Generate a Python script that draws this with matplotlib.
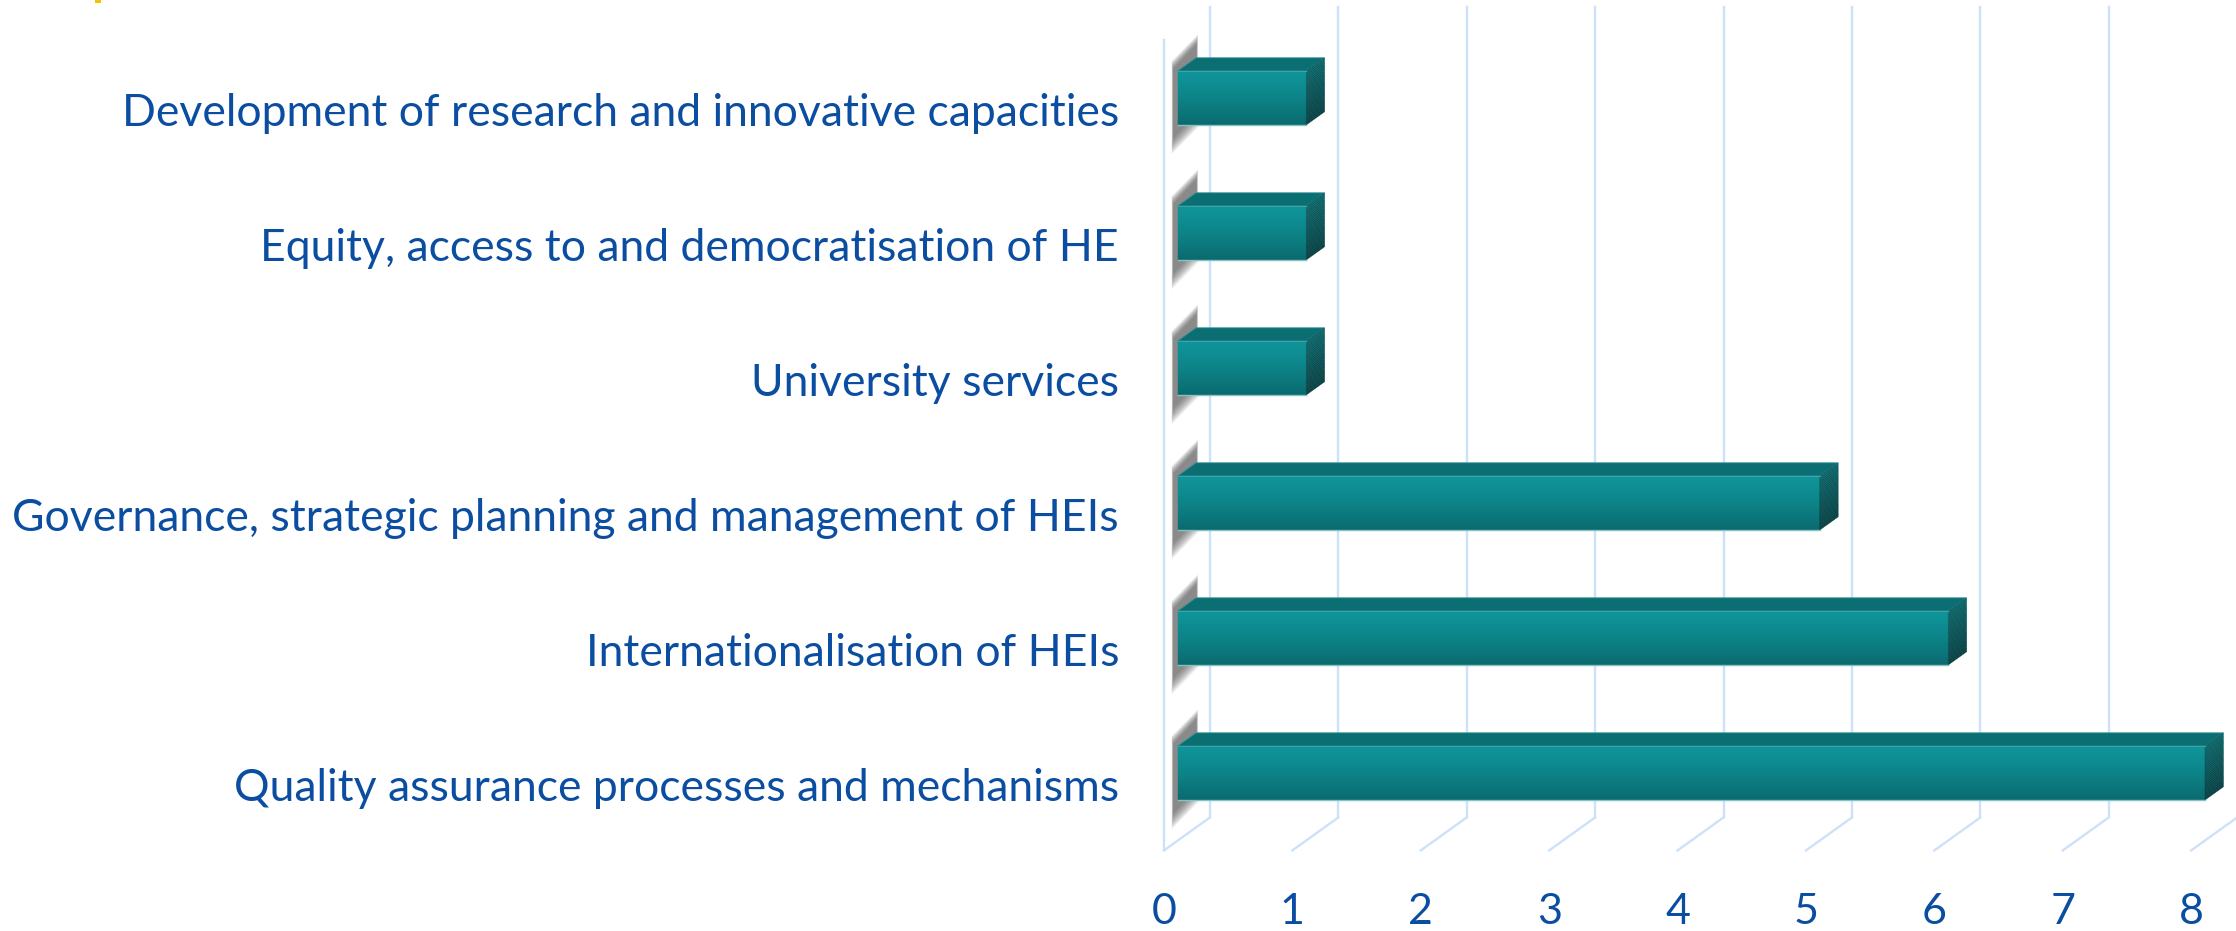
import numpy as np
import matplotlib.pyplot as plt
from matplotlib.patches import Polygon, Rectangle
from matplotlib.colors import to_rgb

# Data
categories = [
    'Quality assurance processes and mechanisms',
    'Internationalisation of HEIs',
    'Governance, strategic planning and management of HEIs',
    'University services',
    'Equity, access to and democratisation of HE',
    'Development of research and innovative capacities',
]
values = [8, 6, 5, 1, 1, 1]
ticks = [0, 1, 2, 3, 4, 5, 6, 7, 8]

# Oblique projection for the pseudo-3D look
DX = 0.358   # x shift per full depth
DY = 0.244   # y shift per full depth
FLOOR, TOP = -0.5, 5.5
BAR_H = 0.4
D0, D1 = 0.3, 0.7

TEXT_COLOR = '#0B4DA0'
GRID_COLOR = '#CDE1FA'


def proj(v, z, d):
    return v + d * DX, z + d * DY


def blend(c1, c2, t):
    a, b = np.array(to_rgb(c1)), np.array(to_rgb(c2))
    return tuple(a + (b - a) * t)


def draw_shadow(ax, z0, z1):
    # soft grey shadow on the left wall, built from stacked translucent layers
    n = 16
    for k in range(n):
        e = 0.12 * (1 - k / n)
        pts = [proj(-0.02, z0 - 0.08 - e, D0 - 0.04 - e * 0.3),
               proj(-0.02, z1 + 0.02 + e * 0.6, D0 - 0.04 - e * 0.3),
               proj(-0.02, z1 + 0.08 + e * 0.6, D1 + 0.06 + e * 0.3),
               proj(-0.02, z0 - 0.02 - e, D1 + 0.06 + e * 0.3)]
        ax.add_patch(Polygon(pts, closed=True, facecolor='#4A4A4A',
                             edgecolor='none', alpha=0.06, zorder=2))


def draw_bar(ax, v, r):
    z0, z1 = r - BAR_H / 2, r + BAR_H / 2
    draw_shadow(ax, z0, z1)
    # front face with vertical gradient
    n = 30
    for i in range(n):
        za = z1 - (z1 - z0) * i / n
        zb = z1 - (z1 - z0) * (i + 1) / n
        t = i / (n - 1)
        c = blend('#0E9499', '#0A6B6F', t ** 1.3)
        pts = [proj(0, zb, D0), proj(v, zb, D0), proj(v, za, D0), proj(0, za, D0)]
        ax.add_patch(Polygon(pts, closed=True, facecolor=c, edgecolor=c,
                             linewidth=0.3, zorder=4))
    # top face
    top = [proj(0, z1, D0), proj(v, z1, D0), proj(v, z1, D1), proj(0, z1, D1)]
    ax.add_patch(Polygon(top, closed=True, facecolor='#0B6E72',
                         edgecolor='#2E8E92', linewidth=0.6, zorder=4))
    # side face with gradient
    for i in range(n):
        za = z1 - (z1 - z0) * i / n
        zb = z1 - (z1 - z0) * (i + 1) / n
        c = blend('#0A6366', '#053F42', i / (n - 1))
        pts = [proj(v, zb, D0), proj(v, za, D0), proj(v, za, D1), proj(v, zb, D1)]
        ax.add_patch(Polygon(pts, closed=True, facecolor=c, edgecolor=c,
                             linewidth=0.3, zorder=4))
    # light edges along the front face
    xa, ya = proj(0, z0, D0)
    xb, yb = proj(v, z0, D0)
    ax.plot([xa, xb], [ya, yb], color='#86C1C4', lw=1.0, zorder=5)
    xa, ya = proj(0, z1, D0)
    xb, yb = proj(v, z1, D0)
    ax.plot([xa, xb], [ya, yb], color='#3FA3A7', lw=0.8, zorder=5)


fig = plt.figure(figsize=(22.36, 9.31), dpi=100)
ax = fig.add_axes([0, 0, 1, 1])
ax.set_xlim(-9.065, 8.349)
ax.set_ylim(-1.097, 5.799)
ax.axis('off')

# back wall gridlines and floor lines
for t in ticks:
    xb0, yb0 = proj(t, FLOOR, 1)
    xb1, yb1 = proj(t, TOP, 1)
    xf, yf = proj(t, FLOOR, 0)
    ax.plot([xb0, xb1], [yb0, yb1], color=GRID_COLOR, lw=1.7, zorder=1)
    ax.plot([xf, xb0], [yf, yb0], color=GRID_COLOR, lw=1.7, zorder=1)
# front edge of the left wall
xf0, yf0 = proj(0, FLOOR, 0)
xf1, yf1 = proj(0, TOP, 0)
ax.plot([xf0, xf1], [yf0, yf1], color=GRID_COLOR, lw=1.7, zorder=1)

for r, v in enumerate(values):
    draw_bar(ax, v, r)

for r, name in enumerate(categories):
    ax.text(-0.35, r - 0.04, name, ha='right', va='center', fontsize=32,
            family='Lato', color=TEXT_COLOR)

for t in ticks:
    ax.text(t, -0.956, str(t), ha='center', va='center', fontsize=31,
            family='Lato', color=TEXT_COLOR)

# small yellow mark in the top-left corner
fig.patches.append(Rectangle((95 / 2236, 1 - 3 / 931), 6 / 2236, 3 / 931,
                             transform=fig.transFigure, facecolor='#F5C400',
                             edgecolor='none'))

fig.savefig('out.png', dpi=100)
